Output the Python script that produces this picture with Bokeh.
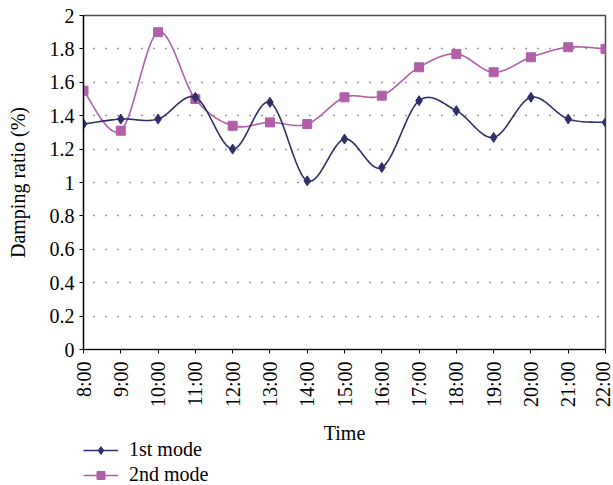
import numpy as np
from bokeh.plotting import figure
from bokeh.layouts import column
from bokeh.models import FixedTicker, Legend, LegendItem, Range1d, Label, ColumnDataSource
from bokeh.embed import file_html
from bokeh.resources import INLINE

# Hourly damping ratio of the two oscillation modes
times = ["8:00", "9:00", "10:00", "11:00", "12:00", "13:00", "14:00", "15:00",
         "16:00", "17:00", "18:00", "19:00", "20:00", "21:00", "22:00"]
mode1 = [1.35, 1.38, 1.38, 1.51, 1.20, 1.48, 1.01, 1.26, 1.09, 1.49, 1.43, 1.27, 1.51, 1.38, 1.36]
mode2 = [1.55, 1.31, 1.90, 1.50, 1.34, 1.36, 1.35, 1.51, 1.52, 1.69, 1.77, 1.66, 1.75, 1.81, 1.80]
y_ticks = [0, 0.2, 0.4, 0.6, 0.8, 1, 1.2, 1.4, 1.6, 1.8, 2]

FONT = "Liberation Serif"
C1 = "#2f3068"
C2 = "#b05fa9"

W = 613
TOP_H = 420
FOOT_H = 485 - TOP_H
LEFT = 83
RIGHT = 605


def smooth(xs, ys, n=24):
    """Catmull-Rom style smoothing through every point (cubic Bezier segments)."""
    xs = np.asarray(xs, float)
    ys = np.asarray(ys, float)
    px = np.concatenate([[xs[0]], xs, [xs[-1]]])
    py = np.concatenate([[ys[0]], ys, [ys[-1]]])
    out_x, out_y = [], []
    t = np.linspace(0, 1, n)
    for i in range(1, len(px) - 2):
        x0, y0 = px[i], py[i]
        x3, y3 = px[i + 1], py[i + 1]
        x1 = x0 + (px[i + 1] - px[i - 1]) / 6
        y1 = y0 + (py[i + 1] - py[i - 1]) / 6
        x2 = x3 - (px[i + 2] - px[i]) / 6
        y2 = y3 - (py[i + 2] - py[i]) / 6
        b0 = (1 - t) ** 3
        b1 = 3 * (1 - t) ** 2 * t
        b2 = 3 * (1 - t) * t ** 2
        b3 = t ** 3
        sx = b0 * x0 + b1 * x1 + b2 * x2 + b3 * x3
        sy = b0 * y0 + b1 * y1 + b2 * y2 + b3 * y3
        if i > 1:
            sx, sy = sx[1:], sy[1:]
        out_x.extend(sx)
        out_y.extend(sy)
    return out_x, out_y


xi = list(range(len(times)))

# ---- main chart ----
p = figure(width=W, height=TOP_H, output_backend="svg", toolbar_location=None,
           x_range=Range1d(0, len(times) - 1), y_range=Range1d(0, 2),
           min_border_left=LEFT, min_border_right=W - RIGHT, min_border_top=15,
           min_border_bottom=TOP_H - 349)

p.background_fill_color = "white"
p.border_fill_color = "white"
p.outline_line_color = "#4a4a4a"
p.outline_line_width = 1.5

p.xaxis.ticker = FixedTicker(ticks=xi)
p.xaxis.major_label_overrides = {i: t for i, t in enumerate(times)}
p.xaxis.major_label_orientation = np.pi / 2
p.yaxis.ticker = FixedTicker(ticks=y_ticks)
p.yaxis.major_label_overrides = {v: ("%g" % v) for v in y_ticks}

for ax in (p.xaxis[0], p.yaxis[0]):
    ax.axis_line_color = "black"
    ax.axis_line_width = 1.2
    ax.major_tick_line_color = "black"
    ax.major_tick_in = 0
    ax.major_tick_out = 4
    ax.minor_tick_line_color = None
    ax.major_label_text_font = FONT
    ax.major_label_text_font_size = "20px"
    ax.major_label_text_color = "black"
    ax.axis_label_text_font = FONT
    ax.axis_label_text_font_size = "20px"
    ax.axis_label_text_font_style = "normal"
    ax.axis_label_text_color = "black"

p.yaxis.axis_label = "Damping ratio (%)"
p.xaxis.major_label_standoff = 8
p.yaxis.major_label_standoff = 5
p.yaxis.axis_label_standoff = 18

# dotted horizontal grid only
p.xgrid.grid_line_color = None
p.ygrid.grid_line_color = "#3a3a3a"
p.ygrid.grid_line_width = 1.3
p.ygrid.grid_line_dash = "1 11"
p.ygrid.grid_line_dash_offset = 2

sx1, sy1 = smooth(xi, mode1)
sx2, sy2 = smooth(xi, mode2)
p.line(sx2, sy2, line_color=C2, line_width=1.6)
p.scatter(xi, mode2, marker="square", size=9, fill_color=C2, line_color=C2)
p.line(sx1, sy1, line_color=C1, line_width=1.6)
p.scatter(xi, mode1, marker="diamond", size=10, fill_color=C1, line_color=C1)

# ---- footer: x-axis title and legend (its frame lines up with the chart's) ----
foot = figure(width=W, height=FOOT_H, output_backend="svg", toolbar_location=None,
              x_range=Range1d(0, 1), y_range=Range1d(0, 1),
              x_axis_location=None, y_axis_location=None,
              min_border=0, outline_line_color=None)
foot.grid.grid_line_color = None
foot.background_fill_color = "white"
foot.border_fill_color = "white"

foot.add_layout(Label(x=0.5, y=FOOT_H - 12, x_units="data", y_units="screen",
                      text="Time", text_align="center", text_baseline="middle",
                      text_font=FONT, text_font_size="20px", text_color="black"))

# off-range placeholders that only supply the legend swatches
swatch = ColumnDataSource(data=dict(x=[-10.0], y=[-10.0]))
k1 = foot.line("x", "y", source=swatch, line_color=C1, line_width=1.6)
s1 = foot.scatter("x", "y", source=swatch, marker="diamond", size=8, fill_color=C1, line_color=C1)
k2 = foot.line("x", "y", source=swatch, line_color=C2, line_width=1.6)
s2 = foot.scatter("x", "y", source=swatch, marker="square", size=8, fill_color=C2, line_color=C2)

legend = Legend(items=[LegendItem(label="1st mode", renderers=[k1, s1]),
                       LegendItem(label="2nd mode", renderers=[k2, s2])],
                location=(0, -1), orientation="vertical",
                glyph_width=35, glyph_height=20, label_height=20,
                label_standoff=11, spacing=2, padding=0, margin=0,
                border_line_color=None, background_fill_alpha=0,
                label_text_font=FONT, label_text_font_size="20px",
                label_text_color="black")
foot.add_layout(legend, "center")

layout = column(p, foot, spacing=0)
open("out.html", "w").write(file_html(layout, INLINE))
